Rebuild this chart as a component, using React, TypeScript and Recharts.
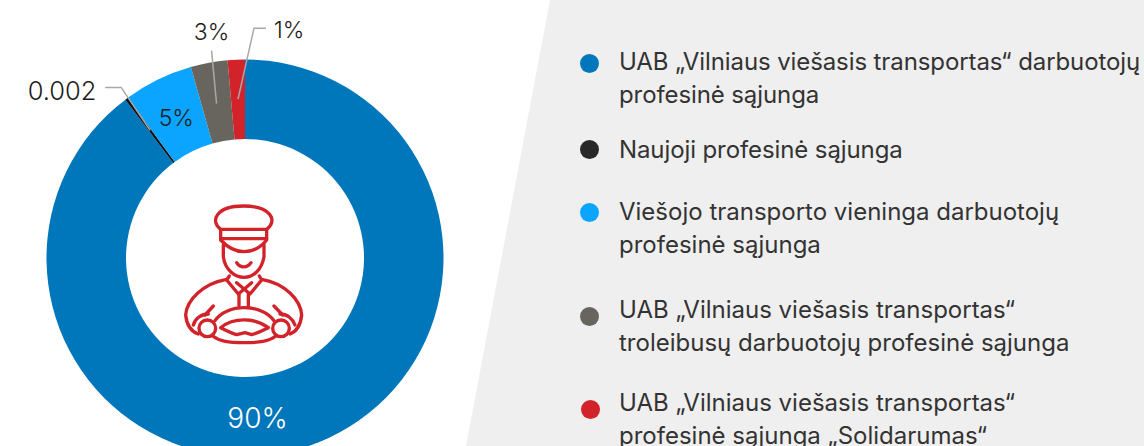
import React from 'react';
import { PieChart, Pie, Cell, Legend } from 'recharts';

const NAMES = [
  'UAB „Vilniaus viešasis transportas“ darbuotojų\nprofesinė sąjunga',
  'Naujoji profesinė sąjunga',
  'Viešojo transporto vieninga darbuotojų\nprofesinė sąjunga',
  'UAB „Vilniaus viešasis transportas“\ntroleibusų darbuotojų profesinė sąjunga',
  'UAB „Vilniaus viešasis transportas“\nprofesinė sąjunga „Solidarumas“',
];
const VALUES = [89.7, 0.25, 5.65, 3.0, 1.4];
const LABELS = ['90%', '0.002', '5%', '3%', '1%'];
const COLORS = ['#0077bb', '#111111', '#0ba5ff', '#68655f', '#d2232a'];

const data = NAMES.map((name, i) => ({ name, value: VALUES[i] }));

const FONT = 'Inter, sans-serif';
const TEXT = '#333333';

// leader line and text placement for each slice, relative to the slice's anchor point
const LABEL_LAYOUT = [
  { radius: 159, tx: -38, ty: 9, size: 28, fill: '#ffffff' },
  { radius: 159, leader: [[-29, -43], [-45, -43]], tx: -88, ty: -40, size: 25.5, fill: '#1c1c1c' },
  { radius: 159, tx: 1, ty: 3, size: 23, fill: '#1c1c1c' },
  { radius: 157, leader: [[-5, -53]], tx: -5, ty: -72, size: 23, fill: '#1c1c1c' },
  { radius: 159, leader: [[16, -71], [28, -71]], tx: 51, ty: -69, size: 23, fill: '#1c1c1c' },
];

const renderLabel = (props: any) => {
  const { cx, cy, midAngle, index } = props;
  const layout = LABEL_LAYOUT[index];
  const rad = (midAngle * Math.PI) / 180;
  const ax = cx + layout.radius * Math.cos(rad);
  const ay = cy - layout.radius * Math.sin(rad);
  const points = [[ax, ay], ...(layout.leader || []).map(([dx, dy]) => [ax + dx, ay + dy])];
  return (
    <g key={index}>
      {layout.leader && (
        <polyline
          points={points.map((p) => p.join(',')).join(' ')}
          fill="none"
          stroke="#a8a8a8"
          strokeWidth={1.5}
        />
      )}
      <text
        x={ax + layout.tx}
        y={ay + layout.ty}
        textAnchor="middle"
        dominantBaseline="central"
        fontFamily={FONT}
        fontWeight={300}
        fontSize={layout.size}
        fill={layout.fill}
      >
        {LABELS[index]}
      </text>
    </g>
  );
};

const ROW_TOP = [46, 134, 196, 294, 387];
const ROW_SPACING = [-0.1, -0.1, 0, 0, 0];
const DOT_Y = [63, 149, 212, 316, 409];
const DOT_X = [589, 589, 589, 589, 590.5];

const renderLegend = (props: any) => (
  <div style={{ position: 'relative', width: 1144, height: 446 }}>
    {props.payload.map((entry: any, i: number) => (
      <React.Fragment key={i}>
        <span
          style={{
            position: 'absolute',
            left: DOT_X[i] - 9.5,
            top: DOT_Y[i] - 9.5,
            width: 19,
            height: 19,
            borderRadius: '50%',
            background: i === 1 ? '#282828' : entry.color,
          }}
        />
        <div
          style={{
            position: 'absolute',
            left: 619,
            top: ROW_TOP[i],
            whiteSpace: 'pre',
            textAlign: 'left',
            fontFamily: FONT,
            fontSize: 24,
            fontWeight: 400,
            letterSpacing: ROW_SPACING[i],
            lineHeight: '32.5px',
            color: TEXT,
          }}
        >
          {entry.value}
        </div>
      </React.Fragment>
    ))}
  </div>
);

const DriverIcon = () => (
  <svg
    viewBox="0 0 450 480"
    width={150}
    height={160}
    style={{ position: 'absolute', left: 170, top: 190 }}
    fill="none"
    stroke="#d2232a"
    strokeWidth={10}
    strokeLinecap="round"
    strokeLinejoin="round"
  >
    <path d="M152 118 C118 92 140 48 220 48 C302 48 325 92 290 118 Z" />
    <path d="M152 118 V150 C175 175 200 185 222 185 C245 185 270 175 290 150 V118" />
    <path d="M154 146 H288" />
    <path d="M160 165 V200 C165 240 195 262 222 262 C250 262 275 240 282 200 V165" />
    <path d="M200 218 C210 235 232 235 243 218" />
    <path d="M178 258 L170 270 L205 312 L245 278" />
    <path d="M268 258 L275 270 L240 312 L200 278" />
    <path d="M207 312 V347 M235 312 V347" />
    <path d="M170 268 C100 280 50 330 47 375 C50 405 65 425 85 432" />
    <path d="M275 268 C345 280 392 330 395 375 C392 405 378 425 360 432" />
    <path d="M130 348 L105 375 M312 348 L338 375" />
    <path d="M70 405 C75 385 95 372 115 372 M375 405 C368 385 350 372 330 372" />
    <circle cx={112} cy={415} r={25} />
    <circle cx={333} cy={415} r={25} />
    <path d="M135 392 C170 340 275 340 312 392" />
    <path d="M128 438 C150 455 175 458 222 458 C270 458 295 455 318 438" />
    <path d="M152 413 C190 382 255 382 295 413 C270 425 255 432 245 434 L225 428 L200 434 C185 430 170 422 152 413 Z" />
  </svg>
);

const App: React.FC = () => (
  <div style={{ position: 'absolute', left: 0, top: 0, width: 1144, height: 446, overflow: 'hidden', background: '#fff' }}>
    <div
      style={{
        position: 'absolute',
        inset: 0,
        background: '#efefef',
        clipPath: 'polygon(550px 0, 1144px 0, 1144px 446px, 466px 446px)',
      }}
    />
    <PieChart
      width={1144}
      height={446}
      margin={{ top: 0, right: 0, bottom: 0, left: 0 }}
      style={{ position: 'absolute', left: 0, top: 0 }}
    >
      <Pie
        data={data}
        dataKey="value"
        nameKey="name"
        cx={245}
        cy={258}
        innerRadius={119}
        outerRadius={198.5}
        startAngle={90}
        endAngle={-270}
        stroke="none"
        label={renderLabel}
        labelLine={false}
        isAnimationActive={false}
      >
        {data.map((_entry, index) => (
          <Cell key={`cell-${index}`} fill={COLORS[index]} />
        ))}
      </Pie>
      <Legend
        content={renderLegend}
        itemSorter={null}
        layout="vertical"
        wrapperStyle={{ position: 'absolute', left: 0, top: 0, width: 1144, height: 446 }}
      />
    </PieChart>
    <DriverIcon />
  </div>
);

export default App;
